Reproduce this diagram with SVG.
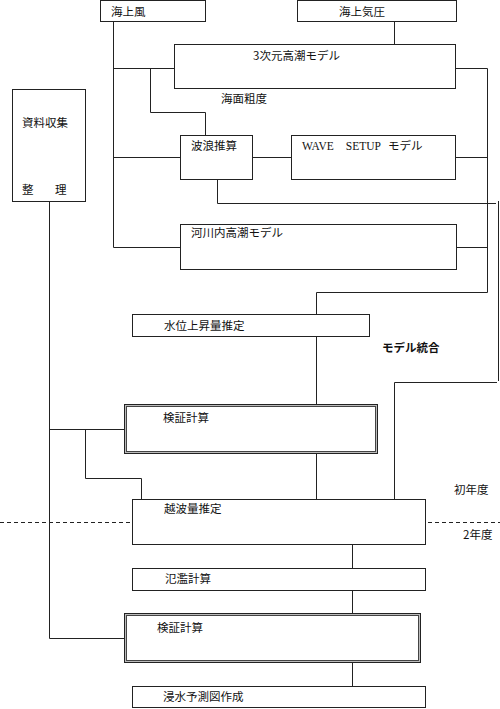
<svg xmlns="http://www.w3.org/2000/svg" width="500" height="709" viewBox="0 0 500 709">
<style>
.b{fill:#fff;stroke:#222;stroke-width:1}
.o{fill:none;stroke:#444;stroke-width:1}
.m{fill:none;stroke:#bbb;stroke-width:1}
.c{fill:none;stroke:#222;stroke-width:1}
.d{fill:none;stroke:#222;stroke-width:1;stroke-dasharray:4 3}
text{font-family:"Noto Sans CJK JP","Noto Sans CJK SC",sans-serif;font-size:11.5px;fill:#111}
.s{font-family:"Liberation Serif",serif;font-size:11.5px}
.bold{font-weight:bold}
</style>
<rect width="500" height="709" fill="#fff"/>
<g id="connectors">
<path class="c" d="M113.5 22V247.5H180"/>
<path class="c" d="M113.5 68.5H174"/>
<path class="c" d="M150.5 68.5V112.5H205.5V135"/>
<path class="c" d="M113.5 157.5H180"/>
<path class="c" d="M394.5 22V44"/>
<path class="c" d="M253 157.5H291"/>
<path class="c" d="M456 68.5H487.5V292.5H316.5V314"/>
<path class="c" d="M456 157.5H487.5"/>
<path class="c" d="M457 247.5H487.5"/>
<path class="c" d="M217.5 180V203.5H496"/>
<path class="c" d="M498.5 201V381"/>
<path class="c" d="M497 382.5H394.5V499"/>
<path class="c" d="M316.5 337V404"/>
<path class="c" d="M316.5 454V499"/>
<path class="c" d="M49.5 202V638.5H124"/>
<path class="c" d="M49.5 429.5H124"/>
<path class="c" d="M85.5 429.5V478.5H141.5V499"/>
<path class="c" d="M352.5 545V568"/>
<path class="c" d="M352.5 591V613"/>
<path class="c" d="M352.5 663V686"/>
<path class="d" d="M0 522.5H132"/>
<path class="d" d="M428 522.5H500"/>
</g>
<g id="kaijoufu"><rect class="b" x="100.5" y="0.5" width="105" height="21"/><text x="111" y="16">海上風</text></g>
<g id="kaijoukiatsu"><rect class="b" x="297.5" y="0.5" width="159" height="21"/><text x="339" y="16">海上気圧</text></g>
<g id="sanjigen"><rect class="b" x="174.5" y="44.5" width="281" height="44"/><text x="253" y="60">3次元高潮モデル</text></g>
<g id="kaimensodo"><text x="221" y="103">海面粗度</text></g>
<g id="shiryou"><rect class="b" x="12.5" y="89.5" width="73" height="112"/><text x="22" y="127">資料収集</text><text x="22" y="194">整</text><text x="55" y="194">理</text></g>
<g id="harou"><rect class="b" x="180.5" y="135.5" width="72" height="44"/><text x="191" y="150">波浪推算</text></g>
<g id="wavesetup"><rect class="b" x="291.5" y="135.5" width="164" height="44"/><text class="s" x="302" y="150">WAVE　SETUP</text><text x="388" y="150">モデル</text></g>
<g id="kasen"><rect class="b" x="180.5" y="224.5" width="276" height="45"/><text x="191" y="237">河川内高潮モデル</text></g>
<g id="suii"><rect class="b" x="132.5" y="314.5" width="237" height="22"/><text x="164" y="330">水位上昇量推定</text></g>
<g id="tougou"><text class="bold" x="382" y="352">モデル統合</text></g>
<g id="kenshou1"><rect class="b" x="124.5" y="404.5" width="253" height="49"/><rect class="m" x="125.5" y="405.5" width="251" height="47"/><rect class="o" x="126.5" y="406.5" width="249" height="45"/><text x="163" y="422">検証計算</text></g>
<g id="shonendo"><text x="454" y="494">初年度</text></g>
<g id="ninendo"><text x="463" y="539">2年度</text></g>
<g id="ecchou"><rect class="b" x="132.5" y="499.5" width="293" height="45"/><text x="164" y="513">越波量推定</text></g>
<g id="hanran"><rect class="b" x="132.5" y="568.5" width="293" height="22"/><text x="165" y="583">氾濫計算</text></g>
<g id="kenshou2"><rect class="b" x="124.5" y="613.5" width="296" height="49"/><rect class="m" x="125.5" y="614.5" width="294" height="47"/><rect class="o" x="126.5" y="615.5" width="292" height="45"/><text x="157" y="632">検証計算</text></g>
<g id="shinsui"><rect class="b" x="132.5" y="686.5" width="293" height="21"/><text x="163" y="701">浸水予測図作成</text></g>
</svg>
